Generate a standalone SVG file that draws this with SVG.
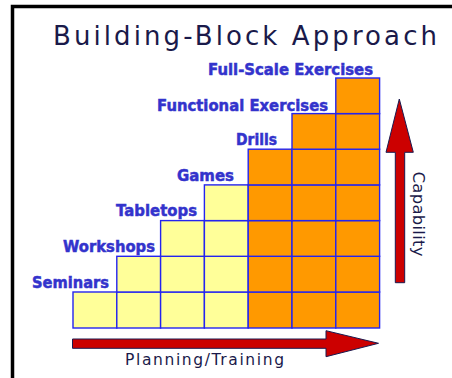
<svg xmlns="http://www.w3.org/2000/svg" width="452" height="378" viewBox="0 0 452 378">
<style>
.y{fill:#ffff99;stroke:#2424f0;stroke-width:1.4}
.o{fill:#ff9900;stroke:#2424f0;stroke-width:1.4}
.lbl{font-family:"DejaVu Sans","Liberation Sans",sans-serif;font-weight:bold;font-size:15.5px;fill:#3333cc;stroke:#3333cc;stroke-width:0.5}
.ttl{font-family:"DejaVu Sans",Verdana,sans-serif;fill:#1a1a4a}
.arr{fill:#cc0000;stroke:#1a1a50;stroke-width:1}
</style>
<rect x="0" y="0" width="452" height="378" fill="#ffffff"/>
<rect x="12.5" y="6.5" width="460" height="400" fill="none" stroke="#000" stroke-width="3.5"/>
<text class="ttl" x="53" y="45" font-size="26" textLength="384" lengthAdjust="spacing">Building-Block Approach</text>

<g id="step-seminars">
<rect class="y" x="73" y="292" width="43.8" height="36"/>
<rect class="y" x="116.8" y="292" width="43.8" height="36"/>
<rect class="y" x="160.6" y="292" width="43.8" height="36"/>
<rect class="y" x="204.4" y="292" width="43.8" height="36"/>
<rect class="o" x="248.2" y="292" width="43.8" height="36"/>
<rect class="o" x="292" y="292" width="43.8" height="36"/>
<rect class="o" x="335.8" y="292" width="43.8" height="36"/>
<text class="lbl" x="32" y="287.5" textLength="77" lengthAdjust="spacingAndGlyphs">Seminars</text>
</g>
<g id="step-workshops">
<rect class="y" x="116.8" y="256.3" width="43.8" height="35.7"/>
<rect class="y" x="160.6" y="256.3" width="43.8" height="35.7"/>
<rect class="y" x="204.4" y="256.3" width="43.8" height="35.7"/>
<rect class="o" x="248.2" y="256.3" width="43.8" height="35.7"/>
<rect class="o" x="292" y="256.3" width="43.8" height="35.7"/>
<rect class="o" x="335.8" y="256.3" width="43.8" height="35.7"/>
<text class="lbl" x="63" y="251.5" textLength="92" lengthAdjust="spacingAndGlyphs">Workshops</text>
</g>
<g id="step-tabletops">
<rect class="y" x="160.6" y="220.6" width="43.8" height="35.7"/>
<rect class="y" x="204.4" y="220.6" width="43.8" height="35.7"/>
<rect class="o" x="248.2" y="220.6" width="43.8" height="35.7"/>
<rect class="o" x="292" y="220.6" width="43.8" height="35.7"/>
<rect class="o" x="335.8" y="220.6" width="43.8" height="35.7"/>
<text class="lbl" x="116" y="216" textLength="81" lengthAdjust="spacingAndGlyphs">Tabletops</text>
</g>
<g id="step-games">
<rect class="y" x="204.4" y="184.9" width="43.8" height="35.7"/>
<rect class="o" x="248.2" y="184.9" width="43.8" height="35.7"/>
<rect class="o" x="292" y="184.9" width="43.8" height="35.7"/>
<rect class="o" x="335.8" y="184.9" width="43.8" height="35.7"/>
<text class="lbl" x="177" y="180.5" textLength="57" lengthAdjust="spacingAndGlyphs">Games</text>
</g>
<g id="step-drills">
<rect class="o" x="248.2" y="149.2" width="43.8" height="35.7"/>
<rect class="o" x="292" y="149.2" width="43.8" height="35.7"/>
<rect class="o" x="335.8" y="149.2" width="43.8" height="35.7"/>
<text class="lbl" x="236" y="145" textLength="41" lengthAdjust="spacingAndGlyphs">Drills</text>
</g>
<g id="step-functional">
<rect class="o" x="292" y="113.6" width="43.8" height="35.6"/>
<rect class="o" x="335.8" y="113.6" width="43.8" height="35.6"/>
<text class="lbl" x="157" y="110.5" textLength="171" lengthAdjust="spacingAndGlyphs">Functional Exercises</text>
</g>
<g id="step-fullscale">
<rect class="o" x="335.8" y="78" width="43.8" height="35.6"/>
<text class="lbl" x="208" y="75" textLength="165" lengthAdjust="spacingAndGlyphs">Full-Scale Exercises</text>
</g>

<g id="connectors">
<path class="arr" d="M72.5,339 H326 V330.7 L378.5,343.3 L326,356.7 V348.3 H72.5 Z"/>
<path class="arr" d="M395.3,282.7 V152.3 H386 L399.3,99 L413.3,152.3 H404.7 V282.7 Z"/>
</g>
<text class="ttl" x="125" y="365" font-size="15.5" textLength="159" lengthAdjust="spacing">Planning/Training</text>
<text class="ttl" font-size="16.5" transform="translate(413,171.5) rotate(90)" textLength="85" lengthAdjust="spacing">Capability</text>
</svg>
